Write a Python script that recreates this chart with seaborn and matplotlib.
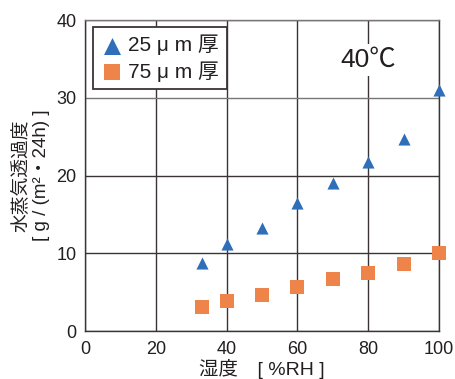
import seaborn as sns
import matplotlib.pyplot as plt

humidity = [33, 40, 50, 60, 70, 80, 90, 100]
rate_25um = [8.7, 11.2, 13.2, 16.5, 19.1, 21.8, 24.7, 31.0]
rate_75um = [3.1, 3.8, 4.6, 5.6, 6.7, 7.4, 8.6, 10.0]
series_labels = ['25 μ m 厚', '75 μ m 厚']
x_ticks = [0, 20, 40, 60, 80, 100]
y_ticks = [0, 10, 20, 30, 40]

blue = '#2f6eb8'
orange = '#ef844b'
ink = '#231f20'
line = '#3a3534'


def main():
    sns.set_style('white')
    plt.rcParams['font.family'] = ['Liberation Sans', 'Noto Sans CJK JP']

    fig = plt.figure(figsize=(4.55, 3.79), dpi=100)
    ax = fig.add_axes([0.1868, 0.1266, 0.778, 0.8206])

    sns.scatterplot(x=humidity, y=rate_25um, marker='^', color=blue, s=76,
                    linewidth=0, ax=ax, zorder=3, clip_on=False, label=series_labels[0])
    sns.scatterplot(x=humidity, y=rate_75um, marker='s', color=orange, s=88,
                    linewidth=0, ax=ax, zorder=3, clip_on=False, label=series_labels[1])

    ax.set_xlim(0, 100)
    ax.set_ylim(0, 40)
    ax.set_xticks(x_ticks)
    ax.set_yticks(y_ticks)
    ax.grid(True, color=line, linewidth=1.0)
    ax.get_ygridlines()[3].set_color('#7a7576')
    for sp in ax.spines.values():
        sp.set_color(line)
        sp.set_linewidth(1.0)
    ax.spines['top'].set_color('#7a7576')
    ax.tick_params(axis='y', labelsize=13, length=4, width=1.0,
                   color=line, labelcolor=ink, direction='out', pad=2)
    ax.tick_params(axis='x', labelsize=13, length=0, labelcolor=ink, pad=7)

    ax.set_xlabel('湿度　[ %RH ]', fontsize=14, color=ink)
    ax.xaxis.set_label_coords(0.5, -0.122)
    ax.xaxis.label.set_va('center')
    ax.set_ylabel('水蒸気透過度\n[ g / (m²・24h) ]', fontsize=13.5, color=ink,
                  linespacing=1.25)
    ax.yaxis.set_label_coords(-0.152, 0.5)
    ax.yaxis.label.set_va('center')

    leg = ax.legend(loc='upper left', fontsize=15, frameon=True, fancybox=False,
                    edgecolor=line, framealpha=1, borderpad=0.35, labelspacing=0.3,
                    handletextpad=0.25, handlelength=1.1, borderaxespad=0,
                    bbox_to_anchor=(0.0226, 0.977))
    leg.get_frame().set_linewidth(1.3)
    leg.legend_handles[0].set_sizes([150])
    leg.legend_handles[1].set_sizes([120])
    for t in leg.get_texts():
        t.set_color(ink)

    ax.text(0.799, 0.871, '40℃', transform=ax.transAxes, fontsize=19,
            color=ink, ha='center', va='center',
            bbox=dict(facecolor='white', edgecolor='none', pad=3))

    plt.savefig('out.png', dpi=100)


if __name__ == '__main__':
    main()
